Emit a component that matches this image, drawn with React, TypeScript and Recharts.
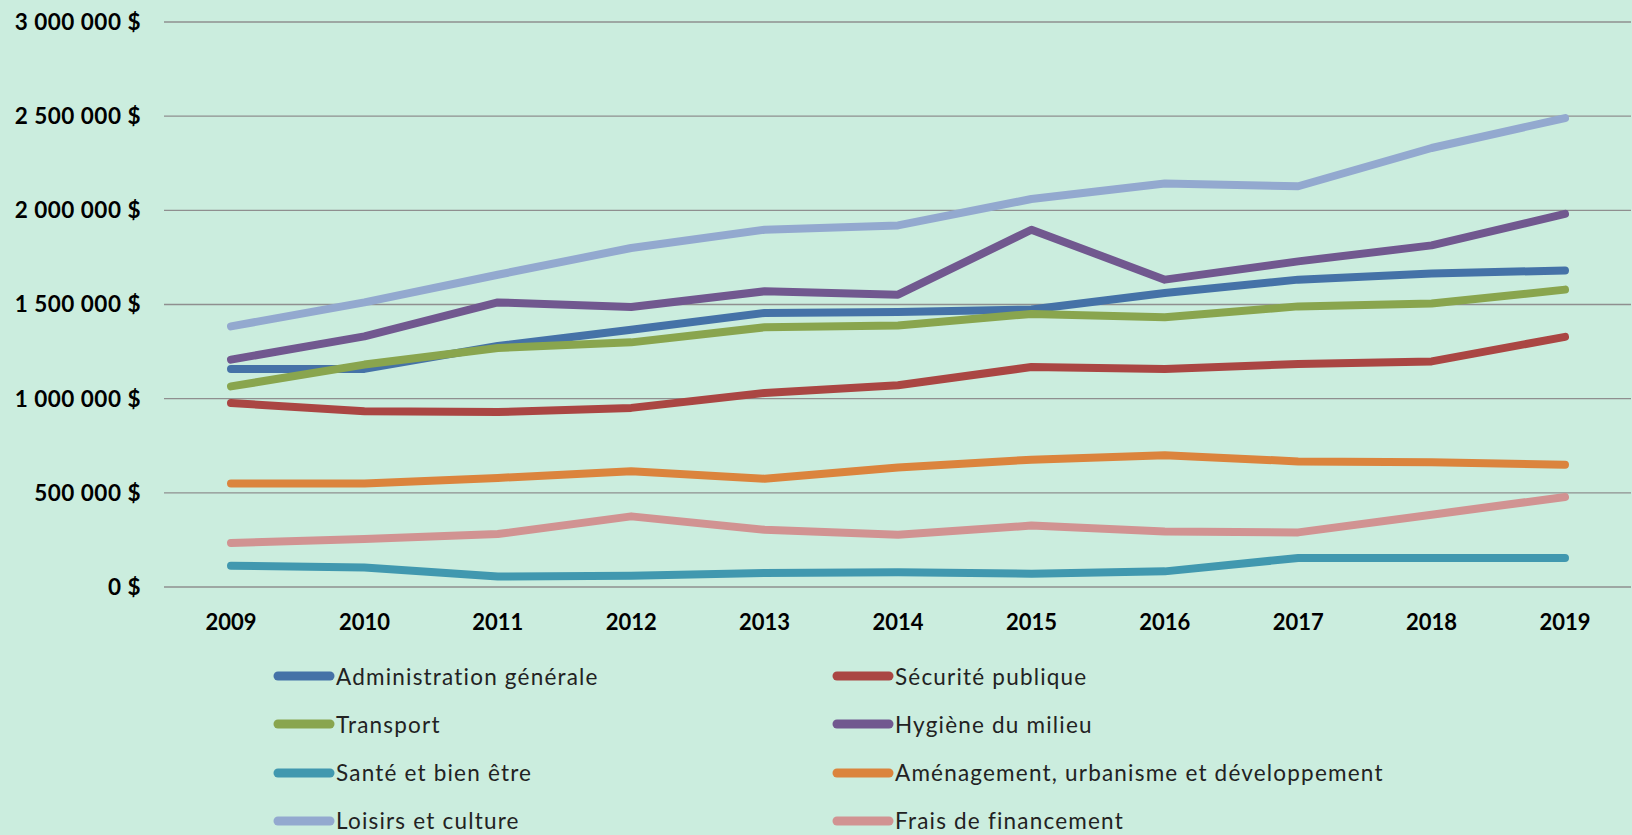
import { LineChart, Line, XAxis, YAxis, CartesianGrid } from "recharts";

const years = ["2009", "2010", "2011", "2012", "2013", "2014", "2015", "2016", "2017", "2018", "2019"];

const administration = [1158000, 1158000, 1280000, 1366000, 1455000, 1460000, 1473000, 1561000, 1632000, 1664000, 1681000];
const securite = [977000, 933000, 929000, 951000, 1030000, 1071000, 1168000, 1158000, 1184000, 1198000, 1328000];
const transport = [1065000, 1181000, 1269000, 1299000, 1379000, 1388000, 1450000, 1432000, 1490000, 1505000, 1579000];
const hygiene = [1207000, 1331000, 1511000, 1487000, 1570000, 1552000, 1897000, 1632000, 1729000, 1814000, 1981000];
const sante = [113000, 104000, 56000, 60000, 74000, 78000, 71000, 83000, 154000, 154000, 154000];
const amenagement = [549000, 549000, 579000, 614000, 575000, 635000, 676000, 699000, 667000, 662000, 649000];
const loisirs = [1384000, 1511000, 1658000, 1800000, 1897000, 1920000, 2060000, 2142000, 2128000, 2331000, 2490000];
const frais = [234000, 255000, 281000, 375000, 304000, 278000, 326000, 295000, 290000, 384000, 478000];

const yTicks = [0, 500000, 1000000, 1500000, 2000000, 2500000, 3000000];

const series = [
  { key: "admin", name: "Administration générale", color: "#4572A7", values: administration },
  { key: "securite", name: "Sécurité publique", color: "#AA4643", values: securite },
  { key: "transport", name: "Transport", color: "#89A54E", values: transport },
  { key: "hygiene", name: "Hygiène du milieu", color: "#71588F", values: hygiene },
  { key: "sante", name: "Santé et bien être", color: "#4198AF", values: sante },
  { key: "amenagement", name: "Aménagement, urbanisme et développement", color: "#DB843D", values: amenagement },
  { key: "loisirs", name: "Loisirs et culture", color: "#93A9CF", values: loisirs },
  { key: "frais", name: "Frais de financement", color: "#D19392", values: frais },
];

const data = years.map((year, i) => {
  const row: Record<string, string | number> = { year };
  series.forEach((s) => {
    row[s.key] = s.values[i];
  });
  return row;
});

const formatMoney = (v: number) =>
  String(v).replace(/\B(?=(\d{3})+(?!\d))/g, " ") + " $";

const FONT = "Lato, 'Open Sans', sans-serif";

function Legend() {
  return (
    <div style={{ position: "absolute", left: 273, top: 652, width: 1300 }}>
      {series.map((s, i) => {
        const col = i % 2;
        const row = Math.floor(i / 2);
        return (
          <div
            key={s.key}
            style={{
              position: "absolute",
              left: col === 0 ? 0 : 559,
              top: row * 48.3,
              height: 48,
              display: "flex",
              alignItems: "center",
              whiteSpace: "nowrap",
            }}
          >
            <svg width={62} height={12} style={{ marginRight: 1 }}>
              <line x1={5} y1={6} x2={57} y2={6} stroke={s.color} strokeWidth={9} strokeLinecap="round" />
            </svg>
            <span style={{ fontFamily: FONT, fontSize: 22.5, letterSpacing: 1.2, color: "#222" }}>{s.name}</span>
          </div>
        );
      })}
    </div>
  );
}

export default function App() {
  return (
    <div
      style={{
        position: "absolute",
        left: 0,
        top: 0,
        width: 1632,
        height: 835,
        background: "#CBEDDE",
        overflow: "hidden",
      }}
    >
      <LineChart
        width={1632}
        height={835}
        data={data}
        margin={{ top: 22, right: 1, bottom: 0, left: 0 }}
      >
        <CartesianGrid horizontal vertical={false} stroke="#8f8f8f" strokeWidth={1.3} />
        <XAxis
          dataKey="year"
          height={248}
          axisLine={false}
          tickLine={false}
          tickSize={6}
          tickMargin={21}
          padding={{ left: 67, right: 66 }}
          tick={{ fill: "#000", fontSize: 22, fontWeight: 700, fontFamily: FONT }}
          interval={0}
        />
        <YAxis
          width={164}
          domain={[0, 3000000]}
          ticks={yTicks}
          axisLine={false}
          tickLine={false}
          tickSize={6}
          tickMargin={17}
          tickFormatter={formatMoney}
          tick={{ fill: "#000", fontSize: 22.5, fontWeight: 700, fontFamily: FONT, letterSpacing: 0.5 }}
          interval={0}
        />
        {series.map((s) => (
          <Line
            key={s.key}
            type="linear"
            dataKey={s.key}
            name={s.name}
            stroke={s.color}
            strokeWidth={8}
            strokeLinecap="round"
            strokeLinejoin="round"
            dot={false}
            activeDot={false}
            isAnimationActive={false}
          />
        ))}
      </LineChart>
      <Legend />
    </div>
  );
}
